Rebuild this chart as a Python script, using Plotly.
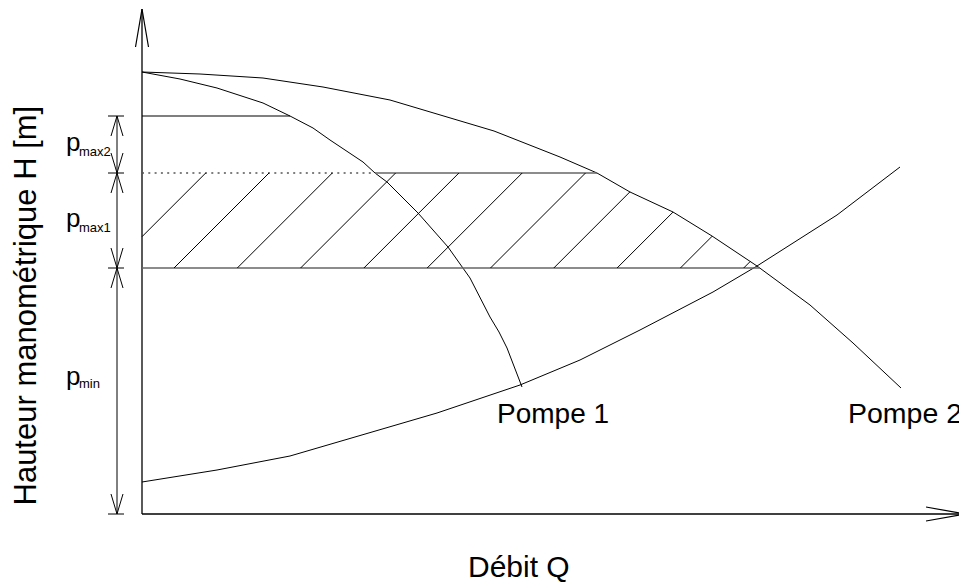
import numpy as np
import plotly.graph_objects as go

# Schéma : débit Q en abscisse, hauteur H en ordonnée (unités du dessin)
q_pompe1 = [0, 38, 75, 121, 148, 171, 188, 221, 233, 245, 268, 276, 306, 321, 328, 348, 357, 365, 372, 380]
h_pompe1 = [442, 435, 426, 411, 398, 386, 374, 352, 341, 332, 309, 301, 267, 246, 236, 197, 182, 166, 148, 127]

q_pompe2 = [0, 58, 121, 181, 248, 352, 418, 455, 488, 531, 570, 615, 668, 711, 759]
h_pompe2 = [442, 440, 436, 427, 414, 383, 357, 341, 322, 302, 278, 248, 209, 171, 126]

q_reseau = [0, 75, 148, 238, 295, 378, 438, 498, 571, 615, 695, 758]
h_reseau = [32, 44, 58, 84, 101, 129, 154, 184, 222, 248, 299, 347]

h_min = 246
h_max1 = 341
h_max2 = 398

q_axis_end = 823
h_axis_end = 505
q_cote = -25

hatch_start = 32
hatch_step = 63.3
hatch_count = 11

FONT = "Liberation Sans, Arial, sans-serif"
INK = "black"


def q_at(h, qs, hs):
    # abscisse où une courbe décroissante atteint la hauteur h
    return float(np.interp(h, hs[::-1], qs[::-1]))


def arrow(q, h, dq, dh, length, half):
    # pointe ouverte en V : branche - pointe - branche
    nq, nh = -dh, dq
    bq, bh = q - dq * length, h - dh * length
    return ([bq + nq * half, q, bq - nq * half, None],
            [bh + nh * half, h, bh - nh * half, None])


fig = go.Figure()


def add_line(xs, ys, color=INK, width=1.0, dash="solid"):
    fig.add_trace(go.Scatter(x=xs, y=ys, mode="lines", hoverinfo="skip",
                             line=dict(color=color, width=width, dash=dash)))


# axes avec flèches
add_line([0, 0], [0, h_axis_end], width=1.3)
add_line([0, q_axis_end], [0, 0], width=1.3)
ax, ay = arrow(0, h_axis_end, 0, 1, 38, 6.5)
add_line(ax, ay, width=1.2)
ax, ay = arrow(q_axis_end, 0, 1, 0, 39, 7)
add_line(ax, ay, width=1.2)

# courbes
add_line(q_pompe1, h_pompe1)
add_line(q_pompe2, h_pompe2)
add_line(q_reseau, h_reseau)

# niveaux de pression
q_p1_max2 = q_at(h_max2, q_pompe1, h_pompe1)
q_p1_max1 = q_at(h_max1, q_pompe1, h_pompe1)
q_p2_max1 = q_at(h_max1, q_pompe2, h_pompe2)
q_fonct = q_at(h_min, q_pompe2, h_pompe2)
add_line([0, q_p1_max2], [h_max2, h_max2], width=1.1)
add_line([0, q_p1_max1], [h_max1, h_max1], color="#555", width=1.4, dash="2px,4.3px")
add_line([q_p1_max1, q_p2_max1], [h_max1, h_max1], color="#666", width=1.6)
add_line([0, q_fonct], [h_min, h_min], color="#666", width=1.6)

# hachures à 45° entre h_min et h_max1, limitées par la pompe 2
hx, hy = [], []
for k in range(hatch_count):
    q0 = hatch_start + (k - 1) * hatch_step
    q_top = q0 + (h_max1 - h_min)
    qs = np.linspace(max(q0, 0), q_top, 600)
    h_line = h_min + qs - q0
    h_curve = np.interp(qs, q_pompe2, h_pompe2)
    above = np.nonzero(h_line >= h_curve)[0]
    end = above[0] if len(above) else len(qs) - 1
    hx += [qs[0], qs[end], None]
    hy += [h_line[0], h_line[end], None]
add_line(hx, hy, width=1.0)

# cotes à gauche
levels = [0, h_min, h_max1, h_max2]
add_line([q_cote, q_cote], [0, h_max2], width=1.0)
for lv in levels:
    add_line([q_cote - 9, q_cote + 7], [lv, lv], width=1.0)
for lo, hi in [(h_max1, h_max2), (h_min, h_max1), (0, h_min)]:
    ax, ay = arrow(q_cote, hi, 0, 1, 20, 6)
    add_line(ax, ay, width=1.0)
    ax, ay = arrow(q_cote, lo, 0, -1, 20, 6)
    add_line(ax, ay, width=1.0)

# étiquettes p avec indice
p_labels = ["max2", "max1", "min"]
p_pos = [372.5, 296.5, 138.5]
sub_pos = [362.5, 286.5, 130.5]
for sub, hp, hs in zip(p_labels, p_pos, sub_pos):
    fig.add_annotation(x=-77, y=hp, text="p", showarrow=False, xanchor="left",
                       yanchor="middle", borderpad=0,
                       font=dict(family=FONT, size=26, color=INK))
    fig.add_annotation(x=-64, y=hs, text=sub, showarrow=False, xanchor="left",
                       yanchor="middle", borderpad=0,
                       font=dict(family=FONT, size=13, color=INK))

fig.add_annotation(x=411, y=101, text="Pompe 1", showarrow=False,
                   font=dict(family=FONT, size=28, color=INK))
fig.add_annotation(x=762.5, y=101, text="Pompe 2", showarrow=False,
                   font=dict(family=FONT, size=28.5, color=INK))
fig.add_annotation(x=377, y=-52.6, text="Débit Q", showarrow=False,
                   font=dict(family=FONT, size=30, color=INK))
fig.add_annotation(x=-117.5, y=208, text="Hauteur manométrique H [m]", showarrow=False,
                   textangle=-90, font=dict(family=FONT, size=31, color=INK))

# la page ajoute une marge de 8 px : la figure couvre la fenêtre restante
fig.update_layout(
    width=959, height=579,
    margin=dict(l=0, r=0, t=0, b=0),
    paper_bgcolor="white", plot_bgcolor="white",
    showlegend=False,
    xaxis=dict(range=[-134, 825], visible=False, fixedrange=True),
    yaxis=dict(range=[-73, 506], visible=False, fixedrange=True),
)

fig.write_html("out.html")
